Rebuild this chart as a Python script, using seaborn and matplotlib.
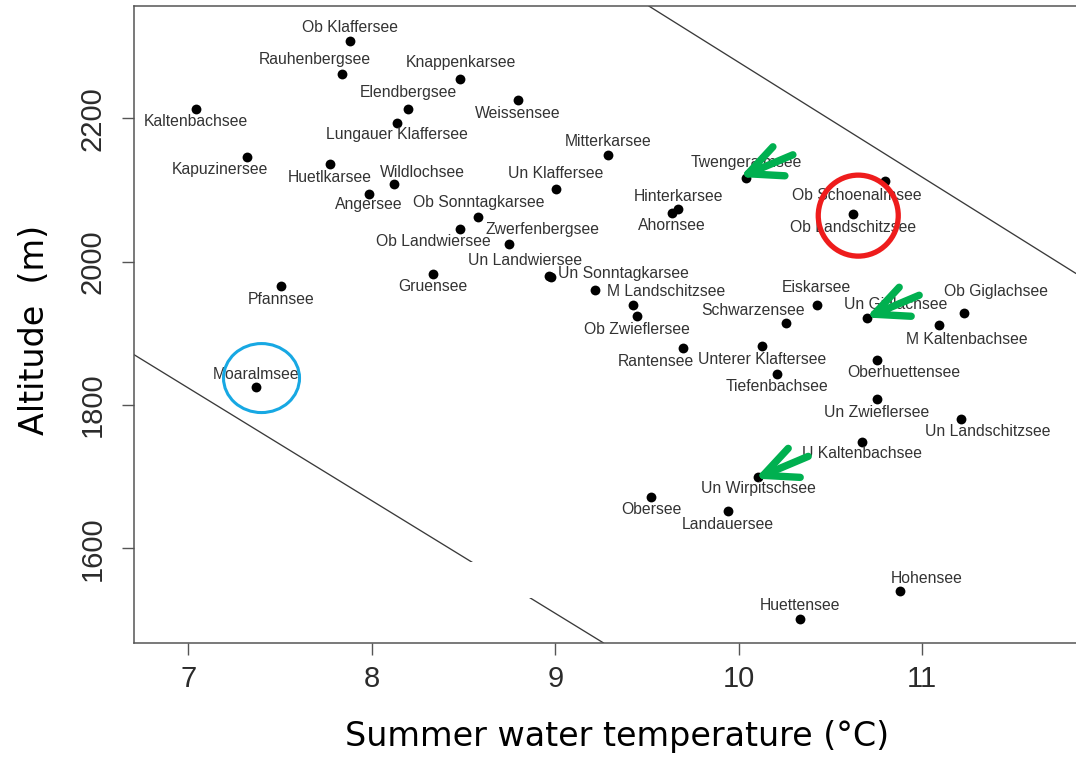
import numpy as np
import pandas as pd
import seaborn as sns
import matplotlib.pyplot as plt
from matplotlib.patches import Ellipse, Rectangle
from matplotlib.lines import Line2D
from matplotlib.transforms import IdentityTransform

# ---- data -------------------------------------------------------------
lakes = [
    "Ob Klaffersee", "Rauhenbergsee", "Knappenkarsee", "Elendbergsee",
    "Lungauer Klaffersee", "Kaltenbachsee", "Weissensee", "Kapuzinersee",
    "Huetlkarsee", "Wildlochsee", "Angersee", "Ob Sonntagkarsee",
    "Ob Landwiersee", "Mitterkarsee", "Un Klaffersee", "Twengeralmsee",
    "Hinterkarsee", "Ahornsee", "Zwerfenbergsee", "Ob Schoenalmsee",
    "Ob Landschitzsee", "Pfannsee", "Gruensee", "Moaralmsee",
    "Un Landwiersee", "Un Sonntagkarsee", "M Landschitzsee", "",
    "Ob Zwieflersee", "Schwarzensee", "Rantensee", "Unterer Klaftersee",
    "Tiefenbachsee", "Un Wirpitschsee", "Eiskarsee", "Un Giglachsee",
    "Ob Giglachsee", "M Kaltenbachsee", "Oberhuettensee", "Un Zwieflersee",
    "Un Landschitzsee", "U Kaltenbachsee", "Obersee", "Landauersee",
    "Hohensee", "Huettensee",
]
temperature = [
    7.881, 7.836, 8.483, 8.199,
    8.139, 7.042, 8.798, 7.318,
    7.772, 8.123, 7.986, 8.579,
    8.482, 9.286, 9.004, 10.039,
    9.670, 9.634, 8.749, 10.797,
    10.624, 7.505, 8.335, 7.369,
    8.965, 8.977, 9.216, 9.425,
    9.444, 10.257, 9.694, 10.128,
    10.211, 10.106, 10.425, 10.700,
    11.227, 11.093, 10.755, 10.752,
    11.211, 10.670, 9.522, 9.940,
    10.878, 10.334,
]
altitude = [
    2308, 2262, 2255, 2213,
    2194, 2213, 2225, 2146,
    2136, 2108, 2095, 2062,
    2045, 2149, 2102, 2117,
    2073, 2068, 2024, 2112,
    2067, 1966, 1983, 1825,
    1980, 1978, 1960, 1940,
    1924, 1915, 1879, 1882,
    1843, 1699, 1939, 1921,
    1929, 1911, 1863, 1808,
    1781, 1749, 1672, 1652,
    1540, 1502,
]

x_ticks = [7, 8, 9, 10, 11]
y_ticks = [1600, 1800, 2000, 2200]

# boundary lines: altitude = intercept + slope * temperature
band_slopes = [-160.3, -157.2]
band_intercepts = [3881.1, 2924.1]

arrow_lakes = ["Twengeralmsee", "Un Giglachsee", "Un Wirpitschsee"]
red_ring_lake = "Ob Landschitzsee"
blue_ring_lake = "Moaralmsee"

x_label = "Summer water temperature (°C)"
y_label = "Altitude  (m)"

# ---- layout (pixels, y pointing down) ----------------------------------
label_offsets = [
    (0, -13), (-27, -14), (1, -16), (0, -16),
    (0, 12), (0, 13), (0, 13), (-27, 12),
    (0, 13), (28, -12), (0, 11), (1, -15),
    (-27, 12), (0, -13), (0, -15), (0, -15),
    (0, -13), (0, 13), (33, -15), (-28, 14),
    (0, 14), (0, 13), (0, 13), (0, -13),
    (-24, -15), (72, -4), (71, 1), (0, 0),
    (0, 13), (-33, -12), (-27, 13), (0, 13),
    (0, 12), (0, 11), (0, -18), (28, -14),
    (32, -21), (28, 14), (27, 13), (0, 13),
    (27, 13), (0, 12), (0, 13), (0, 13),
    (27, -13), (0, -13),
]
arrow_tip_offsets = [(2, -4), (7, -4), (5, -2)]
arrow_strokes = [(25, -27), (45, -19), (37, 2)]

W, H = 1076, 757
AX_L, AX_R, AX_T, AX_B = 134, 1076, 6, 643

sns.set_theme(style="white")
plt.rcParams["font.family"] = ["Liberation Sans", "DejaVu Sans"]

fig = plt.figure(figsize=(W / 100, H / 100), dpi=100)
fig.patch.set_facecolor("white")
ax = fig.add_axes([AX_L / W, (H - AX_B) / H, (AX_R - AX_L) / W, (AX_B - AX_T) / H])
ax.set_facecolor("white")

df = pd.DataFrame({"lake": lakes, "temperature": temperature, "altitude": altitude})

for m, b in zip(band_slopes, band_intercepts):
    ax.axline((0, b), slope=m, color="#3a3a3a", lw=0.95, zorder=1.5)

sns.scatterplot(data=df, x="temperature", y="altitude", color="black",
                s=50, linewidth=0, ax=ax, zorder=3)

for name, x, y, (dx, dy) in zip(lakes, temperature, altitude, label_offsets):
    if not name:
        continue
    ax.annotate(name, (x, y), xytext=(dx, -dy), textcoords="offset pixels",
                ha="center", va="center", fontsize=11.3, color="#333333",
                family="Liberation Sans", zorder=4)

ax.set_xlim(6.704, 11.838)
ax.set_ylim(1467.9, 2356.7)
ax.set_xticks(x_ticks)
ax.set_yticks(y_ticks)
ax.set_xticklabels([str(t) for t in x_ticks])
ax.set_yticklabels([str(t) for t in y_ticks])

ax.tick_params(axis="both", which="major", bottom=True, left=True, top=False, right=False,
               direction="out", length=8.6, width=1.0,
               color="#555555", labelsize=21, labelcolor="#2b2b2b")
ax.tick_params(axis="x", pad=7.2)
ax.tick_params(axis="y", pad=11.0, labelrotation=90)
for lab in ax.get_yticklabels():
    lab.set_va("center")

for side in ["left", "bottom", "top"]:
    ax.spines[side].set_visible(True)
    ax.spines[side].set_color("#555555")
    ax.spines[side].set_linewidth(1.1)
ax.spines["right"].set_visible(False)

ax.set_xlabel(x_label, fontsize=24, family="DejaVu Sans", color="black")
ax.set_ylabel(y_label, fontsize=24, family="DejaVu Sans", color="black")
ax.xaxis.set_label_coords((617.5 - AX_L) / (AX_R - AX_L), (AX_B - 720) / (AX_B - AX_T))
ax.yaxis.set_label_coords((51 - AX_L) / (AX_R - AX_L), (AX_B - 330) / (AX_B - AX_T))

# white box interrupting the lower boundary line
fig.add_artist(Rectangle((197, H - 598), 722 - 197, 598 - 562, transform=IdentityTransform(),
                         facecolor="white", edgecolor="none", zorder=1))


def lake_display(name):
    i = lakes.index(name)
    return ax.transData.transform((temperature[i], altitude[i]))


# green arrows pointing at selected lakes
for name, (ox, oy) in zip(arrow_lakes, arrow_tip_offsets):
    bx, by = lake_display(name)
    tx, ty = bx + ox, by - oy
    for vx, vy in arrow_strokes:
        fig.add_artist(Line2D([tx, tx + vx], [ty, ty - vy], transform=IdentityTransform(),
                              color="#00b050", lw=5.3, solid_capstyle="round", zorder=5))

# rings around two lakes
bx, by = lake_display(red_ring_lake)
fig.add_artist(Ellipse((bx + 5, by - 2), 80, 81, transform=IdentityTransform(),
                       fill=False, edgecolor="#ee1c1c", lw=3.8, zorder=5))
bx, by = lake_display(blue_ring_lake)
fig.add_artist(Ellipse((bx + 5.5, by + 9), 76, 69, transform=IdentityTransform(),
                       fill=False, edgecolor="#17a8e3", lw=2.2, zorder=5))

fig.savefig("out.png", dpi=100, facecolor="white")
